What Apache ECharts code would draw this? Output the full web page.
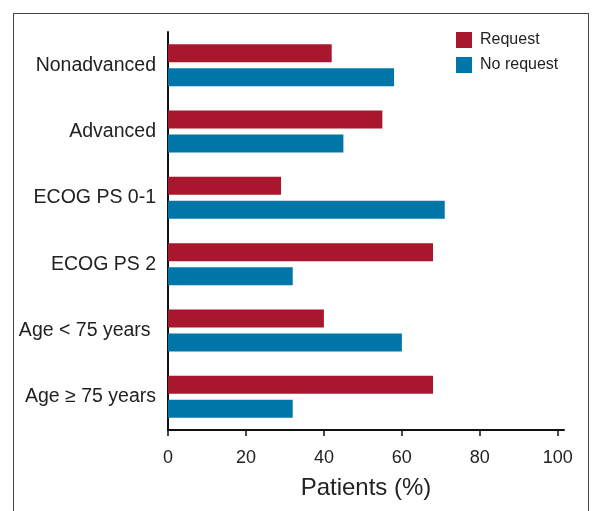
<!DOCTYPE html>
<html>
<head>
<meta charset="utf-8">
<script src="https://cdn.jsdelivr.net/npm/echarts@6/dist/echarts.min.js"></script>
<style>
  html, body { margin: 0; padding: 0; background: #fff; }
  #frame { position: absolute; left: 13px; top: 13px; width: 576px; height: 520px;
           border: 1.5px solid #444; border-bottom: none; box-sizing: border-box; }
  #chart { position: absolute; left: 0; top: 0; width: 595px; height: 511px; }
</style>
</head>
<body>
<div id="frame"></div>
<div id="chart"></div>
<script>
var categories = ['Nonadvanced', 'Advanced', 'ECOG PS 0-1', 'ECOG PS 2', 'Age < 75 years ', 'Age \u2265 75 years']
var requestVals = [42, 55, 29, 68, 40, 68]
var noRequestVals = [58, 45, 71, 32, 60, 32]
var xTicks = [0, 20, 40, 60, 80, 100]

var chart = echarts.init(document.getElementById('chart'))
var font = 'Liberation Sans, Arial, sans-serif'

chart.setOption({
  animation: false,
  textStyle: { fontFamily: font },
  legend: {
    orient: 'vertical',
    left: 451,
    top: 27,
    itemWidth: 16,
    itemHeight: 16,
    itemGap: 9,
    icon: 'rect',
    textStyle: { fontSize: 16, color: '#222', padding: [0, 0, 0, 3] },
    data: ['Request', 'No request']
  },
  grid: { left: 168, top: 32, right: 31, bottom: 81, containLabel: false },
  xAxis: {
    type: 'value',
    min: 0,
    max: 101.6,
    interval: 20,
    name: 'Patients (%)',
    nameLocation: 'middle',
    nameGap: 46,
    nameTextStyle: { fontSize: 24, color: '#222' },
    axisLine: { show: true, lineStyle: { color: '#111', width: 2 } },
    axisTick: { show: true, length: 6, lineStyle: { color: '#111', width: 1.5 } },
    axisLabel: { fontSize: 18, color: '#222', margin: 19, showMaxLabel: false,
      formatter: function (v) { return xTicks.indexOf(v) >= 0 ? String(v) : '' } },
    splitLine: { show: false }
  },
  yAxis: {
    type: 'category',
    inverse: true,
    data: categories,
    axisLine: { show: true, lineStyle: { color: '#111', width: 2 } },
    axisTick: { show: false },
    axisLabel: { fontSize: 19.5, color: '#222', margin: 12 }
  },
  series: [
    {
      name: 'Request',
      type: 'bar',
      data: requestVals,
      barWidth: 18,
      barGap: '33%',
      itemStyle: { color: '#a8172e' }
    },
    {
      name: 'No request',
      type: 'bar',
      data: noRequestVals,
      barWidth: 18,
      barGap: '33%',
      itemStyle: { color: '#0076a8' }
    }
  ]
})
</script>
</body>
</html>
